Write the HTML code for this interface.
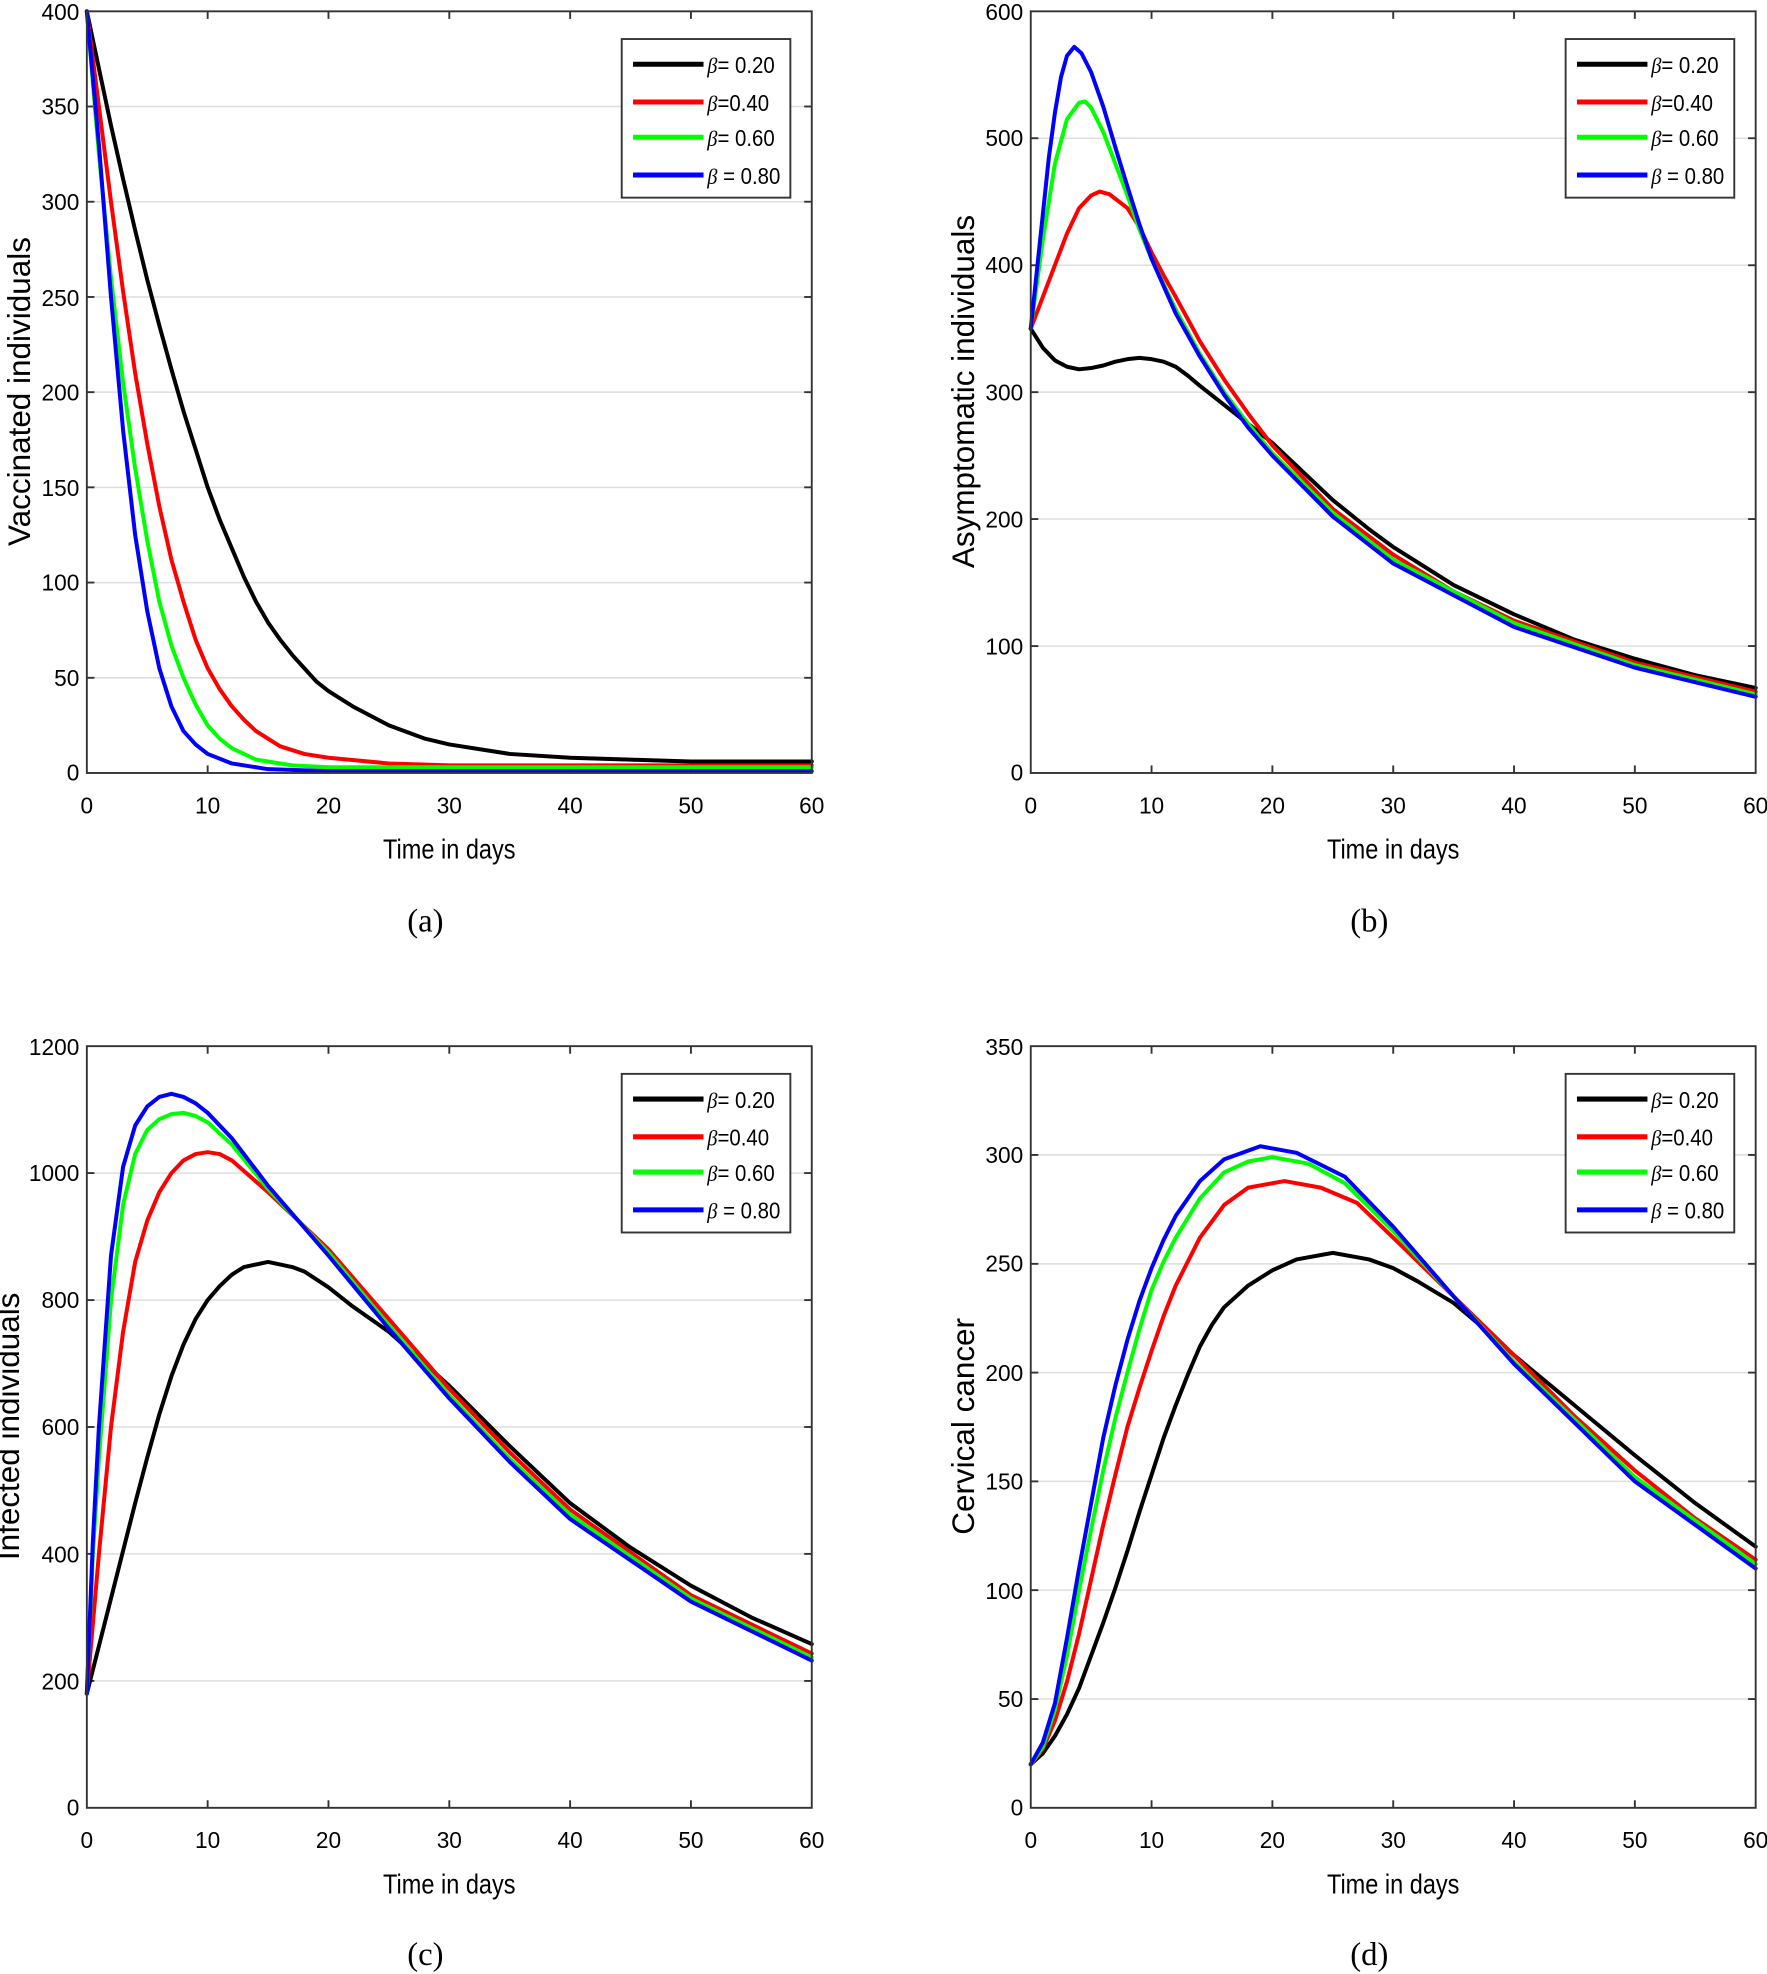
<!DOCTYPE html>
<html><head><meta charset="utf-8"><style>
html,body{margin:0;padding:0;background:#fff}
svg{display:block}
text{font-family:"Liberation Sans",sans-serif;fill:#000}
.t{font-size:18px}
.lab{font-size:22px}
.ylab{font-size:25px}
.cap{font-family:"Liberation Serif",serif;font-size:26px}
.lg{font-size:18px}
.grid line{stroke:#dedede;stroke-width:1.2}
.s{fill:none;stroke-width:4;stroke-linejoin:round;stroke-linecap:round}
</style></head><body>
<svg width="1767" height="1974" viewBox="0 0 1404 1568" preserveAspectRatio="none" xmlns="http://www.w3.org/2000/svg">
<defs>
<g id="gridx">
<line x1="96" y1="0" x2="96" y2="605"/><line x1="192" y1="0" x2="192" y2="605"/><line x1="288" y1="0" x2="288" y2="605"/><line x1="384" y1="0" x2="384" y2="605"/><line x1="480" y1="0" x2="480" y2="605"/>
</g>
<g id="legend">
<rect x="0" y="0" width="134" height="126" fill="#fff" stroke="#333" stroke-width="1.5"/>
<line x1="9" y1="20" x2="65" y2="20" stroke="#000" stroke-width="4"/>
<line x1="9" y1="50" x2="65" y2="50" stroke="#f00" stroke-width="4"/>
<line x1="9" y1="78" x2="65" y2="78" stroke="#0f0" stroke-width="4"/>
<line x1="9" y1="108" x2="65" y2="108" stroke="#00f" stroke-width="4"/>
<g transform="translate(68,0) scale(0.9,1)">
<text class="lg" x="0" y="27"><tspan font-family="Liberation Serif" font-style="italic">β</tspan>= 0.20</text>
<text class="lg" x="0" y="57"><tspan font-family="Liberation Serif" font-style="italic">β</tspan>=0.40</text>
<text class="lg" x="0" y="85"><tspan font-family="Liberation Serif" font-style="italic">β</tspan>= 0.60</text>
<text class="lg" x="0" y="115"><tspan font-family="Liberation Serif" font-style="italic">β</tspan> = 0.80</text>
</g>
</g>
<g id="xticks">
<text class="t" x="0" y="0" text-anchor="middle">0</text><text class="t" x="96" y="0" text-anchor="middle">10</text><text class="t" x="192" y="0" text-anchor="middle">20</text><text class="t" x="288" y="0" text-anchor="middle">30</text><text class="t" x="384" y="0" text-anchor="middle">40</text><text class="t" x="480" y="0" text-anchor="middle">50</text><text class="t" x="576" y="0" text-anchor="middle">60</text>
</g>
<g id="tickmarks" stroke="#333" stroke-width="1.5">
<line x1="96" y1="605" x2="96" y2="599"/><line x1="192" y1="605" x2="192" y2="599"/><line x1="288" y1="605" x2="288" y2="599"/><line x1="384" y1="605" x2="384" y2="599"/><line x1="480" y1="605" x2="480" y2="599"/>
<line x1="96" y1="0" x2="96" y2="6"/><line x1="192" y1="0" x2="192" y2="6"/><line x1="288" y1="0" x2="288" y2="6"/><line x1="384" y1="0" x2="384" y2="6"/><line x1="480" y1="0" x2="480" y2="6"/>
</g>
</defs>

<!-- ===== (a) ===== -->
<g transform="translate(69,9)">
<g class="grid"><use href="#gridx"/>
<line x1="0" y1="75.6" x2="576" y2="75.6"/><line x1="0" y1="151.25" x2="576" y2="151.25"/><line x1="0" y1="226.9" x2="576" y2="226.9"/><line x1="0" y1="302.5" x2="576" y2="302.5"/><line x1="0" y1="378.1" x2="576" y2="378.1"/><line x1="0" y1="453.75" x2="576" y2="453.75"/><line x1="0" y1="529.4" x2="576" y2="529.4"/></g>
<use href="#tickmarks"/>
<g stroke="#333" stroke-width="1.5"><line x1="0" y1="75.6" x2="6" y2="75.6"/><line x1="0" y1="151.25" x2="6" y2="151.25"/><line x1="0" y1="226.9" x2="6" y2="226.9"/><line x1="0" y1="302.5" x2="6" y2="302.5"/><line x1="0" y1="378.1" x2="6" y2="378.1"/><line x1="0" y1="453.75" x2="6" y2="453.75"/><line x1="0" y1="529.4" x2="6" y2="529.4"/>
<line x1="576" y1="75.6" x2="570" y2="75.6"/><line x1="576" y1="151.25" x2="570" y2="151.25"/><line x1="576" y1="226.9" x2="570" y2="226.9"/><line x1="576" y1="302.5" x2="570" y2="302.5"/><line x1="576" y1="378.1" x2="570" y2="378.1"/><line x1="576" y1="453.75" x2="570" y2="453.75"/><line x1="576" y1="529.4" x2="570" y2="529.4"/></g>
<g transform="translate(0,605) scale(9.6,-1.5125)">
<polyline class="s" vector-effect="non-scaling-stroke" stroke="#000" points="0,400 1,370 2,340 3,312 4,285 5,259 6,235 7,212 8,190 9,170 10,150 11,133 12,118 13,103 14,90 15,79 16,70 17,62 18,55 19,48 20,43 22,35 25,25 28,18 30,15 35,10 40,8 45,7 50,6 60,6"/>
<polyline class="s" vector-effect="non-scaling-stroke" stroke="#f00" points="0,400 1,350 2,300 3,253 4,210 5,173 6,140 7,112 8,90 9,70 10,55 11,44 12,35 13,28 14,22 16,14 18,10 20,8 25,5 30,4 60,4"/>
<polyline class="s" vector-effect="non-scaling-stroke" stroke="#0f0" points="0,400 1,325 2,260 3,205 4,160 5,122 6,90 7,67 8,50 9,36 10,25 11,18 12,13 14,7 17,4 20,3 60,3"/>
<polyline class="s" vector-effect="non-scaling-stroke" stroke="#00f" points="0,400 1,330 2,250 3,180 4,125 5,85 6,55 7,35 8,22 9,15 10,10 12,5 15,2 20,1 60,1"/>
</g>
<rect x="0" y="0" width="576" height="605" fill="none" stroke="#333" stroke-width="1.5"/>
<use href="#legend" x="425" y="22"/>
<g transform="translate(0,637)"><use href="#xticks"/></g>
<g text-anchor="end"><text class="t" x="-6" y="7">400</text><text class="t" x="-6" y="82">350</text><text class="t" x="-6" y="158">300</text><text class="t" x="-6" y="234">250</text><text class="t" x="-6" y="309">200</text><text class="t" x="-6" y="385">150</text><text class="t" x="-6" y="460">100</text><text class="t" x="-6" y="536">50</text><text class="t" x="-6" y="611">0</text></g>
<text class="lab" x="288" y="673" text-anchor="middle" transform="translate(288,0) scale(0.85,1) translate(-288,0)">Time in days</text>
<text class="ylab" transform="translate(-45,302) rotate(-90)" text-anchor="middle">Vaccinated individuals</text>
</g>
<text class="cap" x="338" y="740" text-anchor="middle">(a)</text>

<!-- ===== (b) ===== -->
<g transform="translate(819,9)">
<g class="grid"><use href="#gridx"/>
<line x1="0" y1="100.8" x2="576" y2="100.8"/><line x1="0" y1="201.7" x2="576" y2="201.7"/><line x1="0" y1="302.5" x2="576" y2="302.5"/><line x1="0" y1="403.3" x2="576" y2="403.3"/><line x1="0" y1="504.2" x2="576" y2="504.2"/></g>
<use href="#tickmarks"/>
<g stroke="#333" stroke-width="1.5"><line x1="0" y1="100.8" x2="6" y2="100.8"/><line x1="0" y1="201.7" x2="6" y2="201.7"/><line x1="0" y1="302.5" x2="6" y2="302.5"/><line x1="0" y1="403.3" x2="6" y2="403.3"/><line x1="0" y1="504.2" x2="6" y2="504.2"/>
<line x1="576" y1="100.8" x2="570" y2="100.8"/><line x1="576" y1="201.7" x2="570" y2="201.7"/><line x1="576" y1="302.5" x2="570" y2="302.5"/><line x1="576" y1="403.3" x2="570" y2="403.3"/><line x1="576" y1="504.2" x2="570" y2="504.2"/></g>
<g transform="translate(0,605) scale(9.6,-1.00833)">
<polyline class="s" vector-effect="non-scaling-stroke" stroke="#000" points="0,350 1,335 2,325 3,320 4,318 5,319 6,321 7,324 8,326 9,327 10,326 11,324 12,320 13,313 14,305 16,290 18,275 20,260 22,242 25,215 28,192 30,178 35,148 40,125 45,105 50,90 55,77 60,67"/>
<polyline class="s" vector-effect="non-scaling-stroke" stroke="#f00" points="0,350 1,375 2,400 3,425 4,445 5,455 5.7,458 6.5,456 8,445 9,430 10,410 11,392 12,375 14,340 16,310 18,283 20,258 25,208 30,172 35,143 40,120 50,87 60,64"/>
<polyline class="s" vector-effect="non-scaling-stroke" stroke="#0f0" points="0,350 1,420 2,480 3,515 4,528 4.5,529 5,524 6,505 7,480 8,455 9,428 10,405 12,365 14,330 16,300 18,275 20,252 25,205 30,168 40,118 50,85 60,62"/>
<polyline class="s" vector-effect="non-scaling-stroke" stroke="#00f" points="0,350 0.5,395 1,440 1.5,485 2,520 2.5,548 3,565 3.6,572 4.2,567 5,552 6,525 7,493 8,462 9,432 10,405 12,362 14,328 16,298 18,272 20,250 25,202 30,165 40,115 50,83 60,60"/>
</g>
<rect x="0" y="0" width="576" height="605" fill="none" stroke="#333" stroke-width="1.5"/>
<use href="#legend" x="425" y="22"/>
<g transform="translate(0,637)"><use href="#xticks"/></g>
<g text-anchor="end"><text class="t" x="-6" y="7">600</text><text class="t" x="-6" y="107">500</text><text class="t" x="-6" y="208">400</text><text class="t" x="-6" y="309">300</text><text class="t" x="-6" y="410">200</text><text class="t" x="-6" y="511">100</text><text class="t" x="-6" y="611">0</text></g>
<text class="lab" x="288" y="673" text-anchor="middle" transform="translate(288,0) scale(0.85,1) translate(-288,0)">Time in days</text>
<text class="ylab" transform="translate(-45,302) rotate(-90)" text-anchor="middle">Asymptomatic individuals</text>
</g>
<text class="cap" x="1088" y="740" text-anchor="middle">(b)</text>

<!-- ===== (c) ===== -->
<g transform="translate(69,831)">
<g class="grid"><use href="#gridx"/>
<line x1="0" y1="100.8" x2="576" y2="100.8"/><line x1="0" y1="201.7" x2="576" y2="201.7"/><line x1="0" y1="302.5" x2="576" y2="302.5"/><line x1="0" y1="403.3" x2="576" y2="403.3"/><line x1="0" y1="504.2" x2="576" y2="504.2"/></g>
<use href="#tickmarks"/>
<g stroke="#333" stroke-width="1.5"><line x1="0" y1="100.8" x2="6" y2="100.8"/><line x1="0" y1="201.7" x2="6" y2="201.7"/><line x1="0" y1="302.5" x2="6" y2="302.5"/><line x1="0" y1="403.3" x2="6" y2="403.3"/><line x1="0" y1="504.2" x2="6" y2="504.2"/>
<line x1="576" y1="100.8" x2="570" y2="100.8"/><line x1="576" y1="201.7" x2="570" y2="201.7"/><line x1="576" y1="302.5" x2="570" y2="302.5"/><line x1="576" y1="403.3" x2="570" y2="403.3"/><line x1="576" y1="504.2" x2="570" y2="504.2"/></g>
<g transform="translate(0,605) scale(9.6,-0.504167)">
<polyline class="s" vector-effect="non-scaling-stroke" stroke="#000" points="0,180 1,255 2,330 3,405 4,480 5,552 6,620 7,680 8,730 9,770 10,800 11,822 12,840 13,852 15,860 17,852 18,845 20,820 22,790 25,750 30,665 35,570 40,480 45,410 50,350 55,300 60,258"/>
<polyline class="s" vector-effect="non-scaling-stroke" stroke="#f00" points="0,180 1,400 2,600 3,750 4,860 5,925 6,970 7,1000 8,1020 9,1030 10,1033 11,1030 12,1020 15,970 20,880 25,770 30,660 35,560 40,470 50,335 60,243"/>
<polyline class="s" vector-effect="non-scaling-stroke" stroke="#0f0" points="0,180 0.5,400 1,550 2,800 3,950 4,1030 5,1068 6,1085 7,1093 8,1095 9,1090 10,1080 12,1045 15,975 20,875 25,760 30,650 35,550 40,462 50,330 60,237"/>
<polyline class="s" vector-effect="non-scaling-stroke" stroke="#00f" points="0,180 0.5,420 1,600 2,870 3,1010 4,1075 5,1105 6,1120 7,1125 8,1120 9,1110 10,1095 12,1055 15,980 20,870 25,755 30,645 35,545 40,455 50,325 60,232"/>
</g>
<rect x="0" y="0" width="576" height="605" fill="none" stroke="#333" stroke-width="1.5"/>
<use href="#legend" x="425" y="22"/>
<g transform="translate(0,637)"><use href="#xticks"/></g>
<g text-anchor="end"><text class="t" x="-6" y="7">1200</text><text class="t" x="-6" y="107">1000</text><text class="t" x="-6" y="208">800</text><text class="t" x="-6" y="309">600</text><text class="t" x="-6" y="410">400</text><text class="t" x="-6" y="511">200</text><text class="t" x="-6" y="611">0</text></g>
<text class="lab" x="288" y="673" text-anchor="middle" transform="translate(288,0) scale(0.85,1) translate(-288,0)">Time in days</text>
<text class="ylab" transform="translate(-54,302) rotate(-90)" text-anchor="middle">Infected individuals</text>
</g>
<text class="cap" x="338" y="1561" text-anchor="middle">(c)</text>

<!-- ===== (d) ===== -->
<g transform="translate(819,831)">
<g class="grid"><use href="#gridx"/>
<line x1="0" y1="86.4" x2="576" y2="86.4"/><line x1="0" y1="172.9" x2="576" y2="172.9"/><line x1="0" y1="259.3" x2="576" y2="259.3"/><line x1="0" y1="345.7" x2="576" y2="345.7"/><line x1="0" y1="432.1" x2="576" y2="432.1"/><line x1="0" y1="518.6" x2="576" y2="518.6"/></g>
<use href="#tickmarks"/>
<g stroke="#333" stroke-width="1.5"><line x1="0" y1="86.4" x2="6" y2="86.4"/><line x1="0" y1="172.9" x2="6" y2="172.9"/><line x1="0" y1="259.3" x2="6" y2="259.3"/><line x1="0" y1="345.7" x2="6" y2="345.7"/><line x1="0" y1="432.1" x2="6" y2="432.1"/><line x1="0" y1="518.6" x2="6" y2="518.6"/>
<line x1="576" y1="86.4" x2="570" y2="86.4"/><line x1="576" y1="172.9" x2="570" y2="172.9"/><line x1="576" y1="259.3" x2="570" y2="259.3"/><line x1="576" y1="345.7" x2="570" y2="345.7"/><line x1="576" y1="432.1" x2="570" y2="432.1"/><line x1="576" y1="518.6" x2="570" y2="518.6"/></g>
<g transform="translate(0,605) scale(9.6,-1.72857)">
<polyline class="s" vector-effect="non-scaling-stroke" stroke="#000" points="0,20 1,25 2,33 3,43 4,55 5,70 6,85 7,101 8,118 9,136 10,153 11,170 12,185 13,199 14,212 15,222 16,230 18,240 20,247 22,252 25,255 28,252 30,248 32,242 35,232 38,218 40,208 45,185 50,162 55,140 60,120"/>
<polyline class="s" vector-effect="non-scaling-stroke" stroke="#f00" points="0,20 1,27 2,40 3,58 4,80 5,105 6,130 7,153 8,175 9,193 10,210 11,226 12,240 14,262 16,277 18,285 21,288 24,285 27,278 30,262 35,235 40,208 45,180 50,155 55,133 60,114"/>
<polyline class="s" vector-effect="non-scaling-stroke" stroke="#0f0" points="0,20 1,28 2,45 3,70 4,100 5,128 6,155 7,179 8,200 9,220 10,238 11,251 12,262 14,280 16,292 18,297 20,299 23,296 26,287 30,265 35,235 40,205 50,152 60,112"/>
<polyline class="s" vector-effect="non-scaling-stroke" stroke="#00f" points="0,20 1,30 2,48 3,78 4,110 5,140 6,170 7,194 8,215 9,233 10,248 11,261 12,272 14,288 16,298 19,304 22,301 26,290 30,267 35,235 40,204 50,150 60,110"/>
</g>
<rect x="0" y="0" width="576" height="605" fill="none" stroke="#333" stroke-width="1.5"/>
<use href="#legend" x="425" y="22"/>
<g transform="translate(0,637)"><use href="#xticks"/></g>
<g text-anchor="end"><text class="t" x="-6" y="7">350</text><text class="t" x="-6" y="93">300</text><text class="t" x="-6" y="179">250</text><text class="t" x="-6" y="266">200</text><text class="t" x="-6" y="352">150</text><text class="t" x="-6" y="439">100</text><text class="t" x="-6" y="525">50</text><text class="t" x="-6" y="611">0</text></g>
<text class="lab" x="288" y="673" text-anchor="middle" transform="translate(288,0) scale(0.85,1) translate(-288,0)">Time in days</text>
<text class="ylab" transform="translate(-45,302) rotate(-90)" text-anchor="middle">Cervical cancer</text>
</g>
<text class="cap" x="1088" y="1561" text-anchor="middle">(d)</text>
</svg>
</body></html>
